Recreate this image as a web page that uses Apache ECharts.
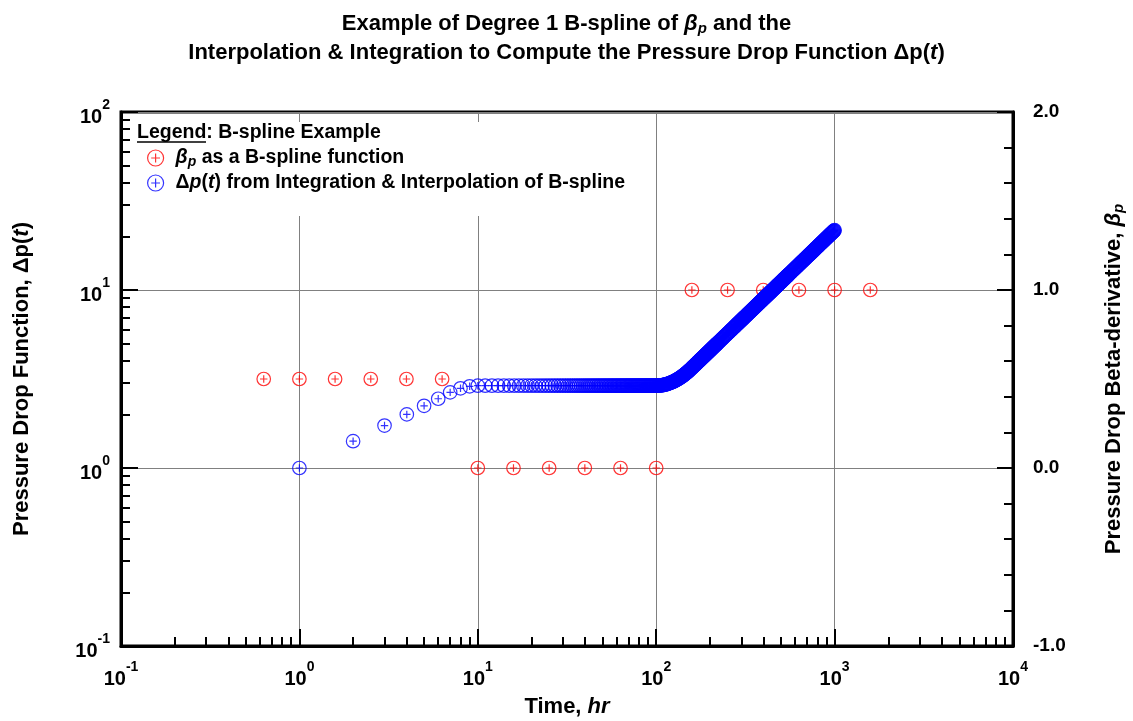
<!DOCTYPE html>
<html>
<head>
<meta charset="utf-8">
<script src="https://cdn.jsdelivr.net/npm/echarts@6/dist/echarts.min.js"></script>
<style>
  html, body { margin: 0; padding: 0; background: #fff; }
  #chart { width: 1133px; height: 721px; }
</style>
</head>
<body>
<div id="chart"></div>
<script>
// Knots of the degree-1 B-spline of the beta-derivative (time in hr, beta on the right axis)
const betaTime = [0.631, 1, 1.585, 2.512, 3.981, 6.31, 10, 15.85, 25.12, 39.81, 63.1, 100, 158.5, 251.2, 398.1, 631, 1000, 1585];
const betaValue = [0.5, 0.5, 0.5, 0.5, 0.5, 0.5, 0, 0, 0, 0, 0, 0, 1, 1, 1, 1, 1, 1];

// Pressure drop obtained by integrating / interpolating the spline (time in hr)
const dpTime = [
  1,2,3,4,5,6,7,8,9,10,
  11,12,13,14,15,16,17,18,19,20,
  21,22,23,24,25,26,27,28,29,30,
  31,32,33,34,35,36,37,38,39,40,
  41,42,43,44,45,46,47,48,49,50,
  51,52,53,54,55,56,57,58,59,60,
  61,62,63,64,65,66,67,68,69,70,
  71,72,73,74,75,76,77,78,79,80,
  81,82,83,84,85,86,87,88,89,90,
  91,92,93,94,95,96,97,98,99,100,
  101,102,103,104,105,106,107,108,109,110,
  111,112,113,114,115,116,117,118,119,120,
  121,122,123,124,125,126,127,128,129,130,
  131,132,133,134,135,136,137,138,139,140,
  141,142,143,144,145,146,147,148,149,150,
  151,152,153,154,155,156,157,158,
  159,160,161,162,163,164,165,166,167,168,
  169,170,171,172,173,174,175,176,177,178,
  179,180,181,182,183,184,185,186,187,188,
  189,190,191,192,193,194,195,196,197,198,
  199,200,201,202,203,204,205,206,207,208,
  209,210,211,212,213,214,215,216,217,218,
  219,220,
  222,224,226,228,230,232,234,236,238,240,
  242,244,246,248,250,252,254,256,258,260,
  262,264,266,268,270,272,274,276,278,280,
  282,284,286,288,290,292,294,296,298,300,
  302,304,306,308,310,312,314,316,318,320,
  322,324,326,328,330,332,334,336,338,340,
  342,344,346,348,350,352,354,356,358,360,
  362,364,366,368,370,372,374,376,378,380,
  382,384,386,388,390,392,394,396,398,400,
  402,404,406,408,410,412,414,416,418,420,
  422,424,426,428,430,432,434,436,438,440,
  442,444,446,448,450,452,454,456,458,460,
  462,464,466,468,470,472,474,476,478,480,
  482,484,486,488,490,492,494,496,498,500,
  502,504,506,508,510,512,514,516,518,520,
  522,524,526,528,530,532,534,536,538,540,
  542,544,546,548,550,
  555,560,565,570,575,580,585,590,595,600,
  605,610,615,620,625,630,635,640,645,650,
  655,660,665,670,675,680,685,690,695,700,
  705,710,715,720,725,730,735,740,745,750,
  755,760,765,770,775,780,785,790,795,800,
  805,810,815,820,825,830,835,840,845,850,
  855,860,865,870,875,880,885,890,895,900,
  905,910,915,920,925,930,935,940,945,950,
  955,960,965,970,975,980,985,990,995,1000
];
const dpValue = [
  1.000,1.414,1.732,2.000,2.236,2.449,2.660,2.804,2.878,2.900,
  2.9,2.9,2.9,2.9,2.9,2.9,2.9,2.9,2.9,2.9,
  2.9,2.9,2.9,2.9,2.9,2.9,2.9,2.9,2.9,2.9,
  2.9,2.9,2.9,2.9,2.9,2.9,2.9,2.9,2.9,2.9,
  2.9,2.9,2.9,2.9,2.9,2.9,2.9,2.9,2.9,2.9,
  2.9,2.9,2.9,2.9,2.9,2.9,2.9,2.9,2.9,2.9,
  2.9,2.9,2.9,2.9,2.9,2.9,2.9,2.9,2.9,2.9,
  2.9,2.9,2.9,2.9,2.9,2.9,2.9,2.9,2.9,2.9,
  2.9,2.9,2.9,2.9,2.9,2.9,2.9,2.9,2.9,2.9,
  2.9,2.9,2.9,2.9,2.9,2.9,2.9,2.9,2.9,2.9,
  2.900,2.901,2.903,2.905,2.908,2.911,2.914,2.919,2.923,2.929,
  2.934,2.941,2.947,2.955,2.962,2.970,2.979,2.988,2.997,3.007,
  3.017,3.027,3.038,3.049,3.061,3.073,3.086,3.098,3.112,3.125,
  3.139,3.153,3.168,3.183,3.198,3.213,3.229,3.246,3.262,3.279,
  3.296,3.314,3.332,3.350,3.369,3.388,3.407,3.427,3.447,3.467,
  3.487,3.508,3.529,3.551,3.572,3.594,3.617,3.640,
  3.66,3.68,3.71,3.73,3.75,3.77,3.79,3.82,3.84,3.86,
  3.88,3.91,3.93,3.95,3.97,3.99,4.02,4.04,4.06,4.08,
  4.11,4.13,4.15,4.17,4.19,4.22,4.24,4.26,4.28,4.30,
  4.33,4.35,4.37,4.39,4.41,4.44,4.46,4.48,4.50,4.53,
  4.55,4.57,4.59,4.61,4.64,4.66,4.68,4.70,4.73,4.75,
  4.77,4.79,4.81,4.84,4.86,4.88,4.90,4.92,4.95,4.97,
  4.99,5.01,
  5.06,5.10,5.14,5.19,5.23,5.28,5.32,5.36,5.41,5.45,
  5.50,5.54,5.58,5.63,5.67,5.71,5.76,5.80,5.85,5.89,
  5.93,5.98,6.02,6.07,6.11,6.15,6.20,6.24,6.28,6.33,
  6.37,6.42,6.46,6.50,6.55,6.59,6.64,6.68,6.72,6.77,
  6.81,6.85,6.90,6.94,6.98,7.03,7.07,7.11,7.16,7.20,
  7.24,7.29,7.33,7.37,7.42,7.46,7.50,7.55,7.59,7.63,
  7.68,7.72,7.77,7.81,7.85,7.90,7.94,7.98,8.03,8.07,
  8.11,8.16,8.20,8.24,8.29,8.33,8.37,8.42,8.46,8.50,
  8.55,8.59,8.63,8.68,8.72,8.76,8.81,8.85,8.89,8.94,
  8.98,9.02,9.07,9.11,9.15,9.19,9.24,9.28,9.32,9.37,
  9.41,9.45,9.50,9.54,9.58,9.62,9.67,9.71,9.75,9.80,
  9.84,9.88,9.93,9.97,10.01,10.05,10.10,10.14,10.18,10.23,
  10.27,10.31,10.35,10.40,10.44,10.48,10.53,10.57,10.61,10.66,
  10.70,10.74,10.78,10.83,10.87,10.91,10.96,11.00,11.04,11.09,
  11.13,11.17,11.21,11.26,11.30,11.34,11.39,11.43,11.47,11.52,
  11.56,11.60,11.64,11.69,11.73,11.77,11.82,11.86,11.90,11.95,
  11.99,12.03,12.07,12.12,12.16,
  12.27,12.37,12.48,12.59,12.69,12.80,12.91,13.01,13.12,13.22,
  13.33,13.44,13.54,13.65,13.76,13.86,13.97,14.08,14.18,14.29,
  14.40,14.50,14.61,14.71,14.82,14.93,15.03,15.14,15.25,15.35,
  15.46,15.56,15.67,15.78,15.88,15.99,16.09,16.20,16.30,16.41,
  16.52,16.62,16.73,16.83,16.94,17.04,17.15,17.26,17.36,17.47,
  17.57,17.68,17.78,17.89,18.00,18.10,18.21,18.31,18.42,18.52,
  18.63,18.74,18.84,18.95,19.05,19.16,19.26,19.37,19.47,19.58,
  19.68,19.79,19.89,20.00,20.10,20.21,20.31,20.42,20.52,20.63,
  20.73,20.84,20.94,21.05,21.15,21.26,21.36,21.47,21.57,21.68
];

// Axis ranges and tick sets
const timeDecades = [0.1, 1, 10, 100, 1000, 10000];
const pressureDecades = [0.1, 1, 10, 100];
const betaRange = [-1, 2];
const minorSteps = [2, 3, 4, 5, 6, 7, 8, 9];

const FONT = "'Liberation Sans', Arial, Helvetica, sans-serif";
const INK = '#000';
const GRID_GRAY = '#808080';

// circle with a plus inside
const MARKER = 'path://M10,0A10,10,0,1,1,-10,0A10,10,0,1,1,10,0ZM-5.5,0L5.5,0M0,-5.5L0,5.5';

const minorValues = decades =>
  decades.slice(0, -1).reduce((acc, d) => acc.concat(minorSteps.map(m => m * d)), []);

const powerLabel = v => '{b|10}{s|' + Math.round(Math.log10(v)) + '}';
const powerRich = {
  b: { fontFamily: FONT, fontSize: 20, fontWeight: 'bold', color: INK, lineHeight: 24, padding: [10, 0, 0, 0] },
  s: { fontFamily: FONT, fontSize: 14, fontWeight: 'bold', color: INK, lineHeight: 24, padding: [0, 0, 14, 0] }
};

const nameStyle = (extraRich) => ({
  fontFamily: FONT, fontSize: 22, fontWeight: 'bold', color: INK, lineHeight: 26,
  rich: Object.assign({
    i: { fontFamily: FONT, fontSize: 22, fontWeight: 'bold', fontStyle: 'italic', color: INK, lineHeight: 26 }
  }, extraRich || {})
});

const axisLineStyle = { show: true, onZero: false, lineStyle: { color: INK, width: 3 } };
const majorTick = len => ({ show: true, inside: true, length: len, lineStyle: { color: INK, width: 2 } });

const minorAxis = (decades) => ({
  type: 'log', logBase: 10, min: decades[0], max: decades[decades.length - 1],
  axisLine: { show: false, onZero: false },
  axisTick: { show: true, inside: true, length: 9, customValues: minorValues(decades), lineStyle: { color: INK, width: 2 } },
  axisLabel: { show: false },
  splitLine: { show: false }
});

const chart = echarts.init(document.getElementById('chart'), null, { renderer: 'canvas', width: 1133, height: 721 });

const legendNames = {
  beta: '{gi|β}{sub|p} as a B-spline function',
  dp: 'Δ{gi|p}({gi|t}) from Integration & Interpolation of B-spline'
};
const LEGEND_FONT = 19.5;

chart.setOption({
  animation: false,
  backgroundColor: '#fff',
  title: {
    text: 'Example of Degree 1 B-spline of {gi|β}{sub|p} and the\nInterpolation & Integration to Compute the Pressure Drop Function Δp({gi|t})',
    left: 'center',
    top: 4,
    textStyle: {
      fontFamily: FONT, fontSize: 22, fontWeight: 'bold', color: INK, lineHeight: 29,
      rich: {
        gi: { fontFamily: FONT, fontSize: 22, fontWeight: 'bold', fontStyle: 'italic', color: INK, lineHeight: 29 },
        sub: { fontFamily: FONT, fontSize: 15, fontWeight: 'bold', fontStyle: 'italic', color: INK, lineHeight: 29, padding: [10, 0, 0, 0] }
      }
    }
  },
  legend: {
    orient: 'vertical',
    left: 142,
    top: 142,
    itemWidth: 30,
    itemHeight: 16,
    itemGap: 3,
    selectedMode: false,
    data: ['beta', 'dp'],
    itemStyle: { borderWidth: 1.2 },
    formatter: n => legendNames[n],
    textStyle: {
      fontFamily: FONT, fontSize: LEGEND_FONT, fontWeight: 'bold', color: INK, lineHeight: 22,
      rich: {
        gi: { fontFamily: FONT, fontSize: LEGEND_FONT, fontWeight: 'bold', fontStyle: 'italic', color: INK, lineHeight: 22 },
        sub: { fontFamily: FONT, fontSize: 14, fontWeight: 'bold', fontStyle: 'italic', color: INK, lineHeight: 22, padding: [8, 0, 0, 0] }
      }
    }
  },
  grid: {
    left: 121, right: 120, top: 112, bottom: 75,
    show: true, borderColor: INK, borderWidth: 3, backgroundColor: 'transparent',
    outerBoundsMode: 'none', containLabel: false
  },
  xAxis: [
    {
      type: 'log', logBase: 10, min: timeDecades[0], max: timeDecades[timeDecades.length - 1],
      position: 'bottom',
      name: 'Time, {i|hr}', nameLocation: 'middle', nameGap: 47, nameTextStyle: nameStyle(),
      axisLine: axisLineStyle,
      axisTick: majorTick(17),
      axisLabel: { formatter: powerLabel, margin: 16, rich: powerRich },
      splitLine: { show: true, lineStyle: { color: GRID_GRAY, width: 1 } }
    },
    Object.assign({ position: 'bottom' }, minorAxis(timeDecades))
  ],
  yAxis: [
    {
      type: 'log', logBase: 10, min: pressureDecades[0], max: pressureDecades[pressureDecades.length - 1],
      position: 'left',
      name: 'Pressure Drop Function, Δp({i|t})', nameLocation: 'middle', nameRotate: 90, nameGap: 86,
      nameTextStyle: nameStyle(),
      axisLine: axisLineStyle,
      axisTick: majorTick(17),
      axisLabel: { formatter: powerLabel, margin: 11, rich: powerRich },
      splitLine: { show: true, lineStyle: { color: GRID_GRAY, width: 1 } }
    },
    {
      type: 'value', min: betaRange[0], max: betaRange[1], interval: 1,
      position: 'right',
      name: 'Pressure Drop Beta-derivative, {i|β}{sub|p}', nameLocation: 'middle', nameRotate: 90, nameGap: 88,
      nameTextStyle: nameStyle({
        sub: { fontFamily: FONT, fontSize: 15, fontWeight: 'bold', fontStyle: 'italic', color: INK, lineHeight: 26, padding: [10, 0, 0, 0] }
      }),
      axisLine: axisLineStyle,
      axisTick: majorTick(16),
      minorTick: { show: true, splitNumber: 5, length: 9, lineStyle: { color: INK, width: 2 } },
      axisLabel: {
        margin: 20,
        formatter: v => v.toFixed(1),
        fontFamily: FONT, fontSize: 19, fontWeight: 'bold', color: INK
      },
      splitLine: { show: false }
    },
    Object.assign({ position: 'left' }, minorAxis(pressureDecades))
  ],
  graphic: [
    {
      type: 'rect', z: 1, silent: true,
      shape: { x: 133, y: 122, width: 508, height: 94 },
      style: { fill: '#fff' }
    },
    {
      type: 'text', z: 5, silent: true, x: 137, y: 133,
      style: { text: 'Legend: B-spline Example', fontFamily: FONT, fontSize: LEGEND_FONT, fontWeight: 'bold', fill: INK, verticalAlign: 'middle' }
    },
    {
      type: 'line', z: 5, silent: true,
      shape: { x1: 137, y1: 142, x2: 206, y2: 142 },
      style: { stroke: INK, lineWidth: 1.5 }
    }
  ],
  series: [
    {
      name: 'beta', type: 'scatter', xAxisIndex: 0, yAxisIndex: 1,
      symbol: MARKER, symbolSize: 13.5, silent: true,
      emphasis: { disabled: true },
      itemStyle: { color: 'rgba(0,0,0,0)', borderColor: '#ff0000', borderWidth: 1.2 },
      data: betaTime.map((t, i) => [t, betaValue[i]])
    },
    {
      name: 'dp', type: 'scatter', xAxisIndex: 0, yAxisIndex: 0,
      symbol: MARKER, symbolSize: 13.5, silent: true,
      emphasis: { disabled: true },
      itemStyle: { color: 'rgba(0,0,0,0)', borderColor: '#0000ff', borderWidth: 1.2 },
      data: dpTime.map((t, i) => [t, dpValue[i]])
    }
  ]
});
</script>
</body>
</html>
